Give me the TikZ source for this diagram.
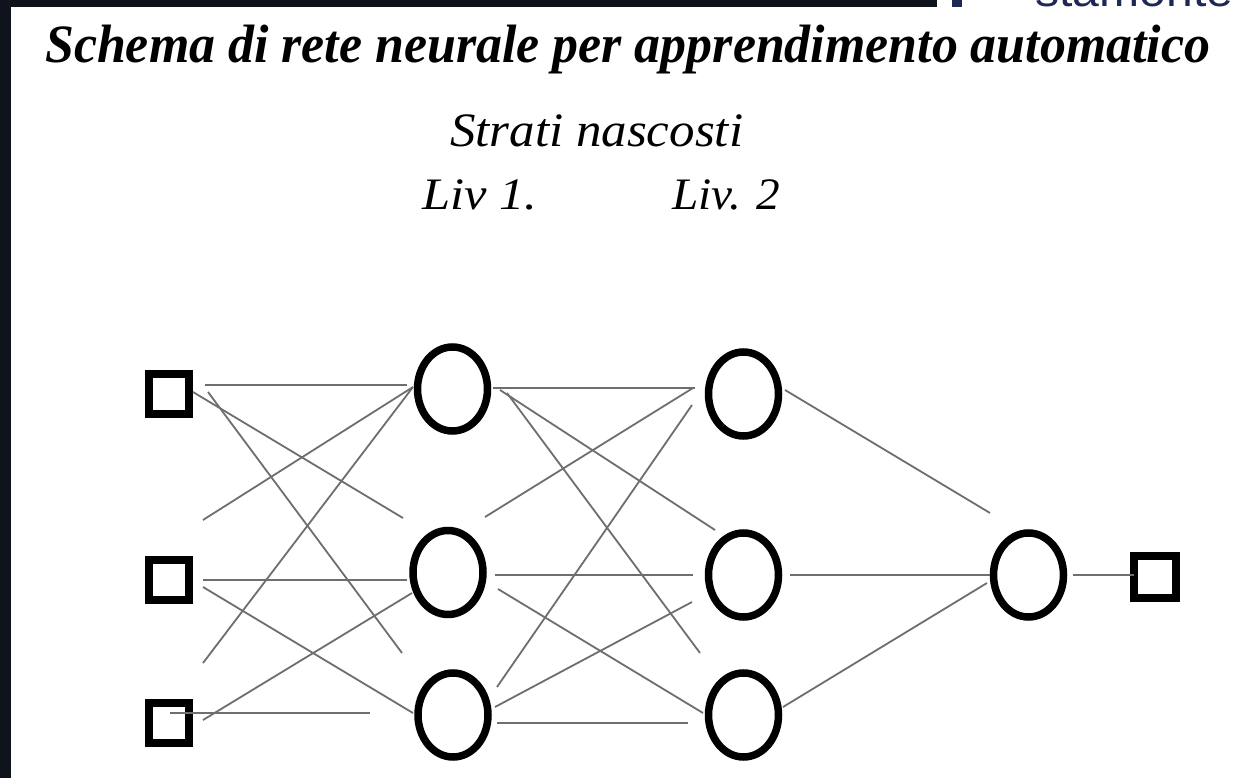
\documentclass[tikz,border=0pt]{standalone}
\usepackage{fontspec}
\setmainfont{Liberation Serif}
\newfontfamily\fragfont{Liberation Sans}
\usetikzlibrary{shapes.geometric}
\definecolor{framedark}{RGB}{15,19,27}
\definecolor{fragblue}{RGB}{30,40,85}
\definecolor{linkgray}{RGB}{110,110,110}
\begin{document}
\begin{tikzpicture}[x=1pt,y=-1pt,
  neuron/.style={draw=black, line width=7.5pt, ellipse, minimum width=70pt,
                 minimum height=84pt, inner sep=0pt},
  port/.style={draw=black, line width=8pt, rectangle, minimum size=40pt, inner sep=0pt},
  link/.style={draw=linkgray, line width=1.8pt},
  lbl/.style={inner sep=0pt, anchor=base west},
]
% page and dark frame
\useasboundingbox (0,0) rectangle (1239,778);
\fill[white] (0,0) rectangle (1239,778);
\fill[framedark] (0,0) rectangle (937,7);
\fill[framedark] (0,0) rectangle (11,778);
% cut-off caption at the top edge
\begin{scope}
  \clip (937,0) rectangle (1239,7.5);
  \fill[fragblue] (952,0) rectangle (962,7);
  \node[lbl, text=fragblue] (frag) at (1035,7)
    {\fragfont\fontsize{44}{50}\selectfont\resizebox{198pt}{\height}{stamonte}};
\end{scope}

% headings
\node[lbl] (title) at (45,63)
  {\fontsize{54}{60}\selectfont\bfseries\itshape\resizebox{1165pt}{\height}{Schema di rete neurale per apprendimento automatico}};
\node[lbl] (hidden) at (450,147)
  {\fontsize{48}{54}\selectfont\itshape\resizebox{293pt}{\height}{Strati nascosti}};
\node[lbl] (liv1) at (422,210)
  {\fontsize{45}{50}\selectfont\itshape\resizebox{115pt}{\height}{Liv 1.}};
\node[lbl] (liv2) at (672,210)
  {\fontsize{45}{50}\selectfont\itshape\resizebox{108pt}{\height}{Liv. 2}};

% input ports
\node[port] (in1) at (169,393.5) {};
\node[port] (in2) at (169,580) {};
\node[port] (in3) at (169,722.5) {};
% hidden layer 1
\node[neuron] (h1) at (452.5,389) {};
\node[neuron] (h2) at (448,572.5) {};
\node[neuron] (h3) at (453,715) {};
% hidden layer 2
\node[neuron] (k1) at (743.5,394) {};
\node[neuron] (k2) at (743.5,575) {};
\node[neuron] (k3) at (743.5,715) {};
% output neuron and port
\node[neuron] (o1) at (1028.5,575) {};
\node[port, minimum size=42pt] (out) at (1155,577) {};

% connector end points (the strokes stop short of the symbols)
\coordinate (a11s) at (205,385);  \coordinate (a11t) at (407,385);
\coordinate (a12s) at (193,392);  \coordinate (a12t) at (403,518);
\coordinate (a13s) at (208,392);  \coordinate (a13t) at (402,653);
\coordinate (a21s) at (203,520);  \coordinate (a21t) at (413,387);
\coordinate (a22s) at (203,580);  \coordinate (a22t) at (407,580);
\coordinate (a23s) at (203,587);  \coordinate (a23t) at (413,713);
\coordinate (a31s) at (203,663);  \coordinate (a31t) at (413,387);
\coordinate (a32s) at (203,720);  \coordinate (a32t) at (412,593);
\coordinate (a33s) at (170,713);  \coordinate (a33t) at (370,713);

\coordinate (b11s) at (493,388);  \coordinate (b11t) at (695,388);
\coordinate (b12s) at (500,390);  \coordinate (b12t) at (715,530);
\coordinate (b13s) at (507,393);  \coordinate (b13t) at (700,653);
\coordinate (b21s) at (485,517);  \coordinate (b21t) at (693,388);
\coordinate (b22s) at (495,575);  \coordinate (b22t) at (693,575);
\coordinate (b23s) at (498,589);  \coordinate (b23t) at (703,713);
\coordinate (b31s) at (497,687);  \coordinate (b31t) at (692,405);
\coordinate (b32s) at (495,707);  \coordinate (b32t) at (692,602);
\coordinate (b33s) at (497,723);  \coordinate (b33t) at (688,723);

\coordinate (c1s) at (785,390);   \coordinate (c1t) at (990,513);
\coordinate (c2s) at (790,575);   \coordinate (c2t) at (990,575);
\coordinate (c3s) at (783,707);   \coordinate (c3t) at (987,583);
\coordinate (ds)  at (1073,575);  \coordinate (dt)  at (1134,575);

% input -> hidden layer 1
\draw[link] (a11s) -- (a11t);
\draw[link] (a12s) -- (a12t);
\draw[link] (a13s) -- (a13t);
\draw[link] (a21s) -- (a21t);
\draw[link] (a22s) -- (a22t);
\draw[link] (a23s) -- (a23t);
\draw[link] (a31s) -- (a31t);
\draw[link] (a32s) -- (a32t);
\draw[link] (a33s) -- (a33t);
% hidden layer 1 -> hidden layer 2
\draw[link] (b11s) -- (b11t);
\draw[link] (b12s) -- (b12t);
\draw[link] (b13s) -- (b13t);
\draw[link] (b21s) -- (b21t);
\draw[link] (b22s) -- (b22t);
\draw[link] (b23s) -- (b23t);
\draw[link] (b31s) -- (b31t);
\draw[link] (b32s) -- (b32t);
\draw[link] (b33s) -- (b33t);
% hidden layer 2 -> output
\draw[link] (c1s) -- (c1t);
\draw[link] (c2s) -- (c2t);
\draw[link] (c3s) -- (c3t);
\draw[link] (ds) -- (dt);
\end{tikzpicture}
\end{document}
